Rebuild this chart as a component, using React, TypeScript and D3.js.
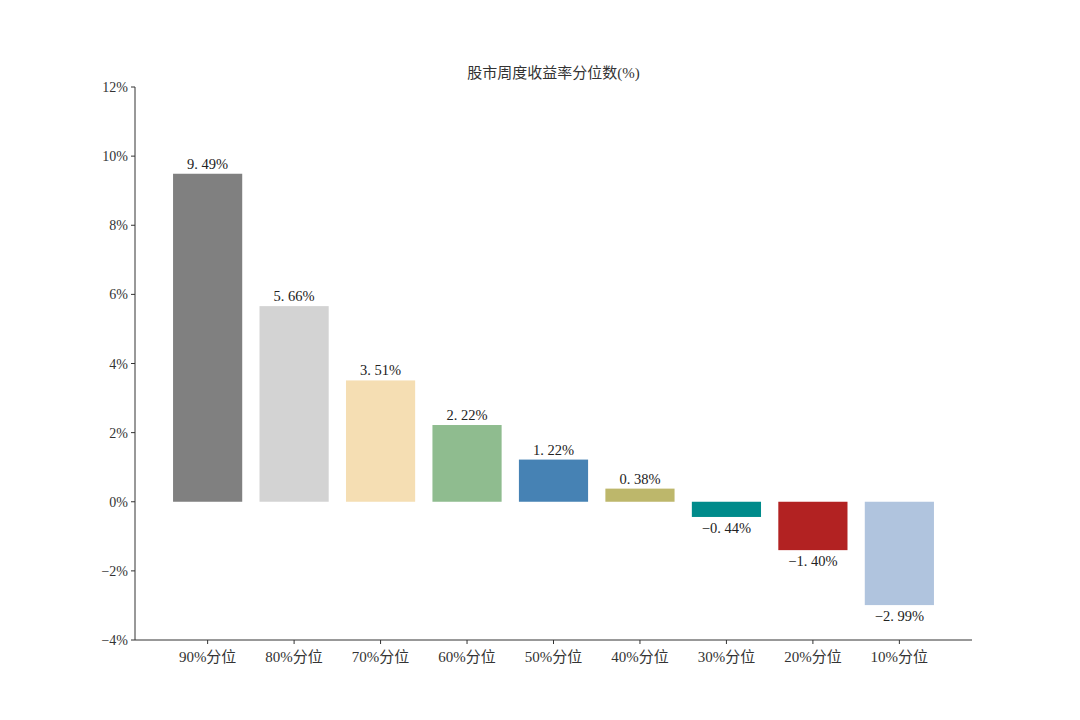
import React from "react";
import * as d3 from "d3";

const categories = ["90%分位", "80%分位", "70%分位", "60%分位", "50%分位", "40%分位", "30%分位", "20%分位", "10%分位"];
const values = [9.49, 5.66, 3.51, 2.22, 1.22, 0.38, -0.44, -1.4, -2.99];
const colors = ["#808080", "#d3d3d3", "#f5deb3", "#8fbc8f", "#4682b4", "#bdb76b", "#008b8b", "#b22222", "#b0c4de"];
const yTicks = [-4, -2, 0, 2, 4, 6, 8, 10, 12];
const title = "股市周度收益率分位数(%)";

const W = 1080, H = 720;
const left = 135, right = 972, top = 87, bottom = 640;
const font = "'Liberation Serif', 'DejaVu Serif', 'Noto Sans CJK SC', serif";

function fmt(v: number) {
  const s = Math.abs(v).toFixed(2).replace(".", ". ") + "%";
  return v < 0 ? "\u2212" + s : s;
}

export default function App() {
  const n = categories.length;
  const x = d3.scaleLinear().domain([-0.84, n - 1 + 0.84]).range([left, right]);
  const y = d3.scaleLinear().domain([-4, 12]).range([bottom, top]);
  const bw = x(0.4) - x(-0.4);
  return (
    <svg width={W} height={H} style={{ display: "block", position: "absolute", left: 0, top: 0 }} fontFamily={font}>
      <rect width={W} height={H} fill="#fff" />
      <text x={(left + right) / 2} y={78} textAnchor="middle" fontSize={15} fill="#333">{title}</text>
      {values.map((v, i) => (
        <g key={i}>
          <rect x={x(i) - bw / 2} y={y(Math.max(0, v))} width={bw} height={Math.abs(y(v) - y(0))} fill={colors[i]} />
          <text x={x(i)} y={v >= 0 ? y(v) - 5 : y(v) + 16} textAnchor="middle" fontSize={14.5} fill="#222">
            {fmt(v)}
          </text>
        </g>
      ))}
      <line x1={left} x2={left} y1={top} y2={bottom} stroke="#333" strokeWidth={1} />
      <line x1={left} x2={right} y1={bottom} y2={bottom} stroke="#333" strokeWidth={1} />
      {yTicks.map((t) => (
        <g key={t}>
          <line x1={left - 4} x2={left} y1={y(t)} y2={y(t)} stroke="#333" />
          <text x={left - 7} y={y(t) + 5} textAnchor="end" fontSize={14} fill="#333">{(t < 0 ? "\u2212" + Math.abs(t) : t) + "%"}</text>
        </g>
      ))}
      {categories.map((c, i) => (
        <g key={c}>
          <line x1={x(i)} x2={x(i)} y1={bottom} y2={bottom + 4} stroke="#333" />
          <text x={x(i)} y={bottom + 22} textAnchor="middle" fontSize={15} fill="#333">{c}</text>
        </g>
      ))}
    </svg>
  );
}
